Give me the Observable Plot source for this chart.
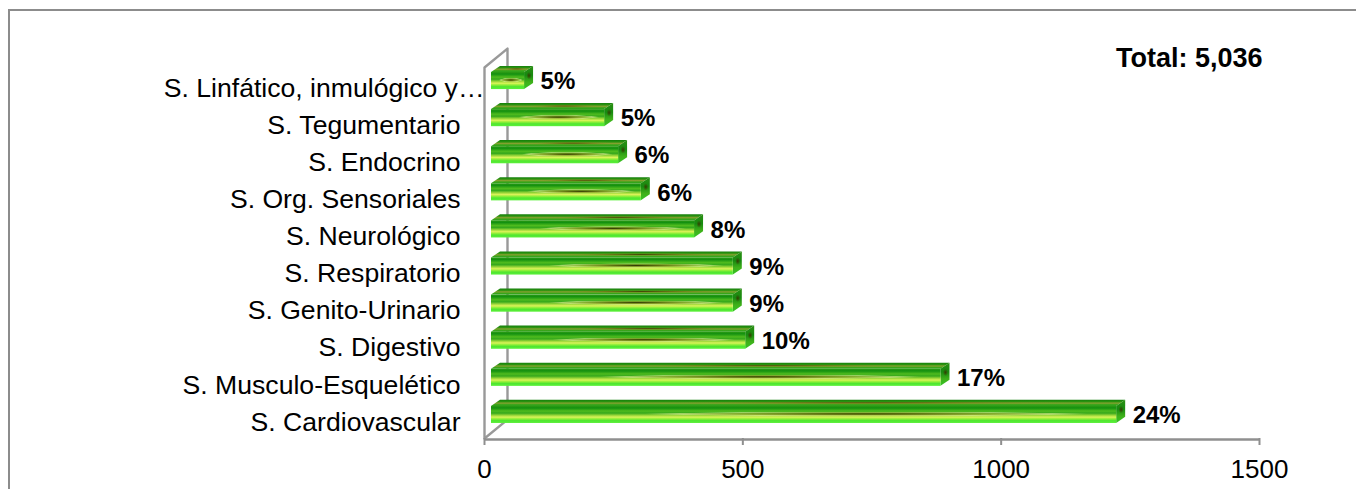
<!DOCTYPE html>
<html>
<head>
<meta charset="utf-8">
<script src="https://cdn.jsdelivr.net/npm/d3@7"></script>
<script src="https://cdn.jsdelivr.net/npm/@observablehq/plot@0.6"></script>
<style>
html,body{margin:0;padding:0;background:#fff;overflow:hidden;width:1356px;height:489px}
#frame{position:absolute;left:8px;top:9px;width:1400px;height:600px;border:2px solid #8c8c8c;box-sizing:border-box}
#chart{position:absolute;left:0;top:0}
svg{background:transparent!important}
</style>
</head>
<body>
<div id="frame"></div>
<div id="chart"></div>
<script>
const categories = ["S. Cardiovascular","S. Musculo-Esquelético","S. Digestivo","S. Genito-Urinario","S. Respiratorio","S. Neurológico","S. Org. Sensoriales","S. Endocrino","S. Tegumentario","S. Linfático, inmulógico y…"];
const values = [1210,870,492,468,468,393,290,246,219,64];
const percents = ["24%","17%","10%","9%","9%","8%","6%","6%","5%","5%"];
const xTicks = [0,500,1000,1500];
const totalLabel = "Total: 5,036";

const rows = categories.map((category,i)=>({category,i,value:values[i],percent:percents[i]}));

// 3-D projection constants, in data units
const barBottom=0.405, barTop=0.865, depthX=17.4, depthY=0.165, wallX=44.5, wallY=0.51;

const topFace = rows.flatMap(d=>[0,d.value].map(v=>({i:d.i,x1:v,y1:d.i+barTop,x2:v+depthX,y2:d.i+barTop+depthY})));
const sideFace = rows.flatMap(d=>[0,depthX].map(o=>({i:d.i,x1:d.value+o,y1:d.i+barBottom+o/depthX*depthY,x2:d.value+o,y2:d.i+barTop+o/depthX*depthY})));
const wall = [[0,0],[0,10],[wallX,10+wallY],[wallX,wallY],[0,0]];

function defs(){
  const stops=(id,list)=>`<linearGradient id="${id}" x1="0" y1="0" x2="0" y2="1">${list.map(([o,c])=>`<stop offset="${o}" stop-color="${c}"/>`).join("")}</linearGradient>`;
  const blot=(id,cx,cy,rx,ry,list)=>`<radialGradient id="${id}" cx="0" cy="0" r="1" gradientTransform="translate(${cx},${cy}) scale(${rx},${ry})">${list.map(([o,c,a])=>`<stop offset="${o}" stop-color="${c}" stop-opacity="${a}"/>`).join("")}</radialGradient>`;
  const g=document.createElementNS("http://www.w3.org/2000/svg","g");
  g.innerHTML=`<defs>
  ${stops("front",[[0,"#2e9c14"],[.12,"#139010"],[.3,"#4fbb1e"],[.42,"#35a81c"],[.56,"#9ed83a"],[.66,"#dcf35a"],[.74,"#9ef03c"],[.86,"#4fe630"],[1,"#5cf03a"]])}
  ${stops("top",[[0,"#157f0c"],[.3,"#2a930f"],[.55,"#86a030"],[.78,"#3aa51a"],[1,"#2ba21c"]])}
  ${stops("side",[[0,"#2b8f12"],[.4,"#178a10"],[.7,"#3fb01a"],[1,"#35c424"]])}
  ${blot("blotFront",.6,.47,.36,.13,[[0,"#2c2a00",.9],[.25,"#5a5a08",.8],[.6,"#a8a83a",.6],[.85,"#e8f0a0",.55],[1,"#e8f0a0",0]])}
  ${blot("blotTop",.6,.5,.32,.2,[[0,"#3a3300",.85],[.45,"#6e6a12",.65],[1,"#8a9a2a",0]])}
  ${blot("blotSide",.55,.42,.28,.16,[[0,"#3a3300",.9],[1,"#3a3300",0]])}
  </defs>`;
  return g;
}

const plot = Plot.plot({
  width:1356,height:489,
  marginLeft:484,marginRight:97,marginTop:67,marginBottom:51,
  x:{domain:[0,1500],axis:null},
  y:{domain:[0,10],axis:null},
  style:{fontFamily:"'Liberation Sans',Arial,sans-serif",background:"transparent",color:"#000",overflow:"visible"},
  marks:[
    defs,
    Plot.line(wall,{x:"0",y:"1",stroke:"#999999",strokeWidth:2.4}),
    Plot.ruleY([0],{stroke:"#8f8f8f",strokeWidth:2.4,dy:1}),
    Plot.axisX({ticks:xTicks,tickSize:7,tickPadding:14,tickFormat:"d",fontSize:26,stroke:"#8f8f8f",strokeWidth:2,fill:"#000",label:null,anchor:"bottom"}),
    Plot.area(topFace,{x1:"x1",y1:"y1",x2:"x2",y2:"y2",z:"i",dx:7,fill:"url(#top)"}),
    Plot.area(topFace,{x1:"x1",y1:"y1",x2:"x2",y2:"y2",z:"i",dx:7,fill:"url(#blotTop)"}),
    Plot.area(sideFace,{x1:"x1",y1:"y1",x2:"x2",y2:"y2",z:"i",dx:7,fill:"url(#side)"}),
    Plot.area(sideFace,{x1:"x1",y1:"y1",x2:"x2",y2:"y2",z:"i",dx:7,fill:"url(#blotSide)"}),
    Plot.rectX(rows,{x1:()=>0,x2:"value",y1:d=>d.i+barBottom,y2:d=>d.i+barTop,dx:7,fill:"url(#front)"}),
    Plot.rectX(rows,{x1:()=>0,x2:"value",y1:d=>d.i+barBottom,y2:d=>d.i+barTop,dx:7,fill:"url(#blotFront)"}),
    Plot.text(rows.slice(0,9),{x:()=>0,y:d=>d.i+.44,text:"category",textAnchor:"end",dx:-24,fontSize:26.6,fill:"#000"}),
    Plot.text(rows.slice(9),{x:()=>0,y:d=>d.i+.44,text:"category",textAnchor:"end",dx:0,fontSize:26.6,fill:"#000"}),
    Plot.text(rows,{x:"value",y:d=>d.i+.62,text:"percent",textAnchor:"start",dx:23,fontSize:24,fontWeight:"bold",fill:"#000"}),
    Plot.text([totalLabel],{x:()=>1500,y:()=>10.24,text:d=>d,textAnchor:"end",dx:3,fontSize:27,fontWeight:"bold",fill:"#000"})
  ]
});
document.getElementById("chart").append(plot);
</script>
</body>
</html>
